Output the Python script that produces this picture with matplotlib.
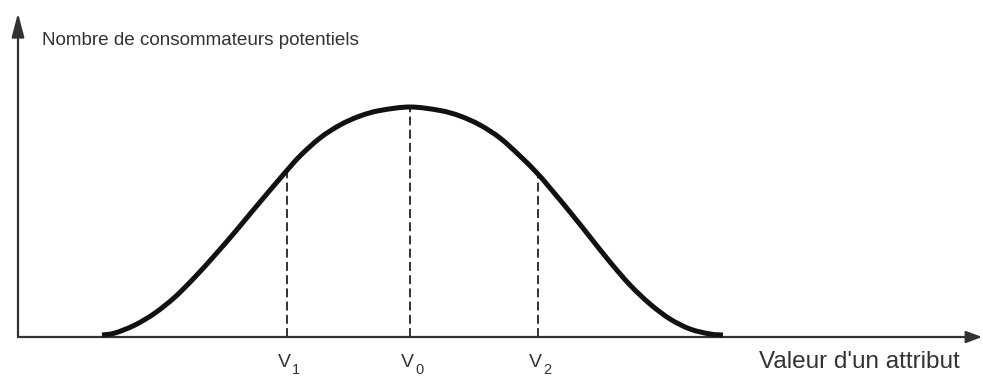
import matplotlib
matplotlib.use("Agg")
import matplotlib.pyplot as plt
from matplotlib.path import Path
from matplotlib.patches import PathPatch

# Distribution of potential consumers over the value of an attribute
attr_values = [84, 97, 117, 137, 157, 177, 197, 217, 237, 265, 282, 302,
               322, 342, 362, 392, 422, 442, 462, 482, 502, 519, 532, 552,
               572, 592, 612, 632, 652, 672, 692, 705]
consumers = [2, 4, 12, 24, 40, 60, 82, 105, 129, 162, 181, 199,
             212, 221, 226.5, 230, 226.5, 221, 212, 199, 181, 164, 149, 125,
             100, 75, 52, 33, 18, 8, 3, 2]

# Marked attribute values and the curve height at each of them
mark_labels = ["1", "0", "2"]
mark_values = [269, 392, 520]
mark_heights = [166, 230, 162]

y_label = "Nombre de consommateurs potentiels"
x_label = "Valeur d'un attribut"

plt.rcParams["font.family"] = ["Liberation Sans", "DejaVu Sans"]

fig = plt.figure(figsize=(9.83, 3.76), dpi=100)
ax = fig.add_axes([0, 0, 1, 1])
ax.set_xlim(-18, 965)
ax.set_ylim(-39, 337)
ax.axis("off")

ink = "#333333"


def smooth_path(xs, ys):
    """Catmull-Rom spline through the points, as cubic Bezier segments."""
    pts = list(zip(xs, ys))
    verts = [pts[0]]
    codes = [Path.MOVETO]
    n = len(pts)
    for i in range(n - 1):
        p0 = pts[i - 1] if i > 0 else pts[i]
        p1 = pts[i]
        p2 = pts[i + 1]
        p3 = pts[i + 2] if i + 2 < n else pts[i + 1]
        c1 = (p1[0] + (p2[0] - p0[0]) / 6, p1[1] + (p2[1] - p0[1]) / 6)
        c2 = (p2[0] - (p3[0] - p1[0]) / 6, p2[1] - (p3[1] - p1[1]) / 6)
        verts += [c1, c2, p2]
        codes += [Path.CURVE4] * 3
    return Path(verts, codes)


# Axes with arrow heads
ax.annotate("", xy=(0, 324), xytext=(0, 0),
            arrowprops=dict(arrowstyle="-|>,head_length=1.45,head_width=0.38",
                            mutation_scale=10, lw=1.6, color=ink,
                            shrinkA=0, shrinkB=0))
ax.annotate("", xy=(964, 0), xytext=(0, 0),
            arrowprops=dict(arrowstyle="-|>,head_length=0.95,head_width=0.36",
                            mutation_scale=10, lw=1.6, color=ink,
                            shrinkA=0, shrinkB=0))

# Dashed verticals at the marked values
for xv, hv in zip(mark_values, mark_heights):
    ax.plot([xv, xv], [0, hv], color=ink, lw=1.4, ls=(0, (4.6, 2.2)),
            solid_capstyle="butt", zorder=2)

# Bell-shaped curve
ax.add_patch(PathPatch(smooth_path(attr_values, consumers), fill=False,
                       lw=3.6, edgecolor="#111111", capstyle="butt",
                       zorder=3))

# Labels
ax.text(24, 292, y_label, fontsize=13.6, color=ink, ha="left",
        va="baseline")
ax.text(741, -31, x_label, fontsize=17.5, color=ink, ha="left",
        va="baseline")
for lab, xv in zip(mark_labels, mark_values):
    ax.text(xv - 3, -30, "V", fontsize=14, color=ink, ha="center",
            va="baseline")
    ax.text(xv + 5, -37, lab, fontsize=10.5, color=ink, ha="left",
            va="baseline")

fig.savefig("out.png", dpi=100)
